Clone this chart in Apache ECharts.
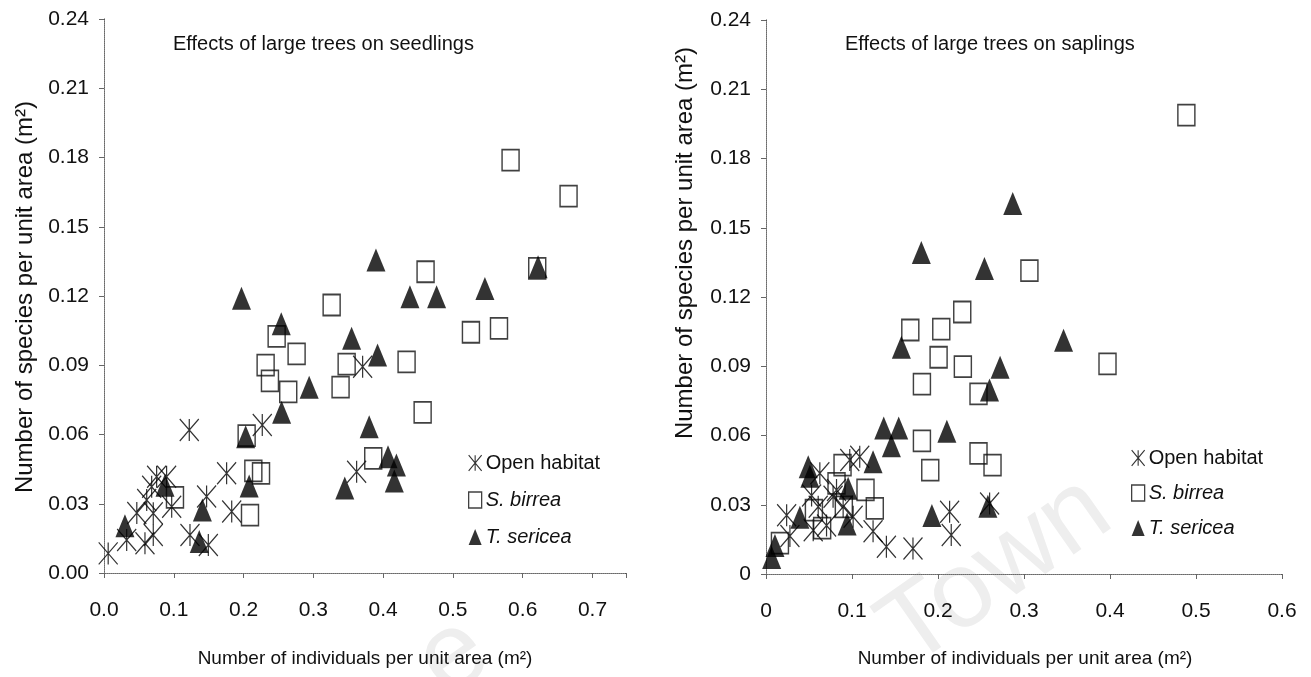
<!DOCTYPE html>
<html>
<head>
<meta charset="utf-8">
<script src="https://cdn.jsdelivr.net/npm/echarts@6/dist/echarts.min.js"></script>
<style>
  html, body { margin: 0; padding: 0; background: #fff; }
  #chart { width: 1311px; height: 677px; }
</style>
</head>
<body>
<div id="chart"></div>
<script>
// Tick labels
const seedlingXTicks = ['0.0', '0.1', '0.2', '0.3', '0.4', '0.5', '0.6', '0.7'];
const seedlingYTicks = ['0.00', '0.03', '0.06', '0.09', '0.12', '0.15', '0.18', '0.21', '0.24'];
const saplingXTicks = ['0', '0.1', '0.2', '0.3', '0.4', '0.5', '0.6'];
const saplingYTicks = ['0', '0.03', '0.06', '0.09', '0.12', '0.15', '0.18', '0.21', '0.24'];

const seriesNames = ['Open habitat', 'S. birrea', 'T. sericea'];

// Seedlings: [individuals per m2, species per m2]
const seedlingsOpen = [
  [0.006, 0.0085], [0.0325, 0.0143], [0.047, 0.026], [0.0587, 0.0129], [0.0612, 0.0316],
  [0.0683, 0.0374], [0.0706, 0.0259], [0.0706, 0.0165], [0.0754, 0.0417], [0.0897, 0.0417],
  [0.097, 0.0287], [0.1222, 0.0619], [0.1232, 0.0165], [0.147, 0.0331], [0.1495, 0.0121],
  [0.1757, 0.0432], [0.183, 0.0266], [0.2268, 0.0641], [0.362, 0.0439], [0.3706, 0.0894]
];
const seedlingsBirrea = [
  [0.1017, 0.0328], [0.2044, 0.0595], [0.2092, 0.0251], [0.214, 0.0442], [0.225, 0.0432],
  [0.2316, 0.0901], [0.2378, 0.0832], [0.2474, 0.1025], [0.264, 0.0785], [0.276, 0.0949],
  [0.3262, 0.1161], [0.339, 0.0805], [0.3477, 0.0905], [0.3858, 0.0497], [0.4336, 0.0915],
  [0.4566, 0.0696], [0.4608, 0.1305], [0.5258, 0.1043], [0.566, 0.106], [0.5826, 0.1789],
  [0.6208, 0.132], [0.6657, 0.1633]
];
const seedlingsSericea = [
  [0.030, 0.0205], [0.0874, 0.038], [0.1365, 0.0136], [0.141, 0.0273], [0.197, 0.119],
  [0.203, 0.059], [0.208, 0.0377], [0.254, 0.108], [0.2545, 0.0696], [0.294, 0.0805],
  [0.345, 0.0368], [0.3548, 0.1017], [0.380, 0.0634], [0.3897, 0.1356], [0.392, 0.0944],
  [0.407, 0.0504], [0.416, 0.0399], [0.419, 0.0468], [0.4384, 0.1197], [0.4766, 0.1197],
  [0.5458, 0.1233], [0.622, 0.1327]
];

// Saplings: [individuals per m2, species per m2]
const saplingsOpen = [
  [0.024, 0.0255], [0.0278, 0.0165], [0.053, 0.034], [0.0549, 0.019], [0.0626, 0.0436],
  [0.0607, 0.0291], [0.0704, 0.021], [0.078, 0.0335], [0.082, 0.0364], [0.0897, 0.0291],
  [0.0974, 0.0494], [0.1013, 0.0248], [0.109, 0.0508], [0.1245, 0.0185], [0.14, 0.0118],
  [0.1709, 0.011], [0.2135, 0.027], [0.2154, 0.0169], [0.26, 0.0305]
];
const saplingsBirrea = [
  [0.0162, 0.0134], [0.0557, 0.0277], [0.0653, 0.0199], [0.082, 0.0393], [0.089, 0.0472],
  [0.0905, 0.0291], [0.1157, 0.0364], [0.1265, 0.0284], [0.1678, 0.1057], [0.1813, 0.0823],
  [0.1813, 0.0577], [0.191, 0.045], [0.2007, 0.0939], [0.2038, 0.1061], [0.2282, 0.1135],
  [0.2289, 0.0898], [0.2471, 0.078], [0.2471, 0.0523], [0.2634, 0.0472], [0.3063, 0.1314],
  [0.3971, 0.091], [0.4888, 0.1988]
];
const saplingsSericea = [
  [0.0066, 0.0072], [0.0104, 0.0123], [0.0394, 0.0246], [0.0491, 0.0465], [0.051, 0.0424],
  [0.0943, 0.0217], [0.0955, 0.0371], [0.1245, 0.0486], [0.1369, 0.0632], [0.1458, 0.0556],
  [0.1543, 0.0632], [0.1574, 0.0982], [0.1806, 0.1393], [0.1929, 0.0253], [0.2103, 0.0618],
  [0.254, 0.1324], [0.258, 0.0293], [0.2599, 0.0797], [0.2722, 0.0896], [0.2869, 0.1605],
  [0.346, 0.1013]
];

const FONT = '"Liberation Sans", Arial, sans-serif';
const ASTERISK = 'path://M0,0L10,12M10,0L0,12M5,0L5,12';

function tickFormatter(labels, step) {
  return function (v) {
    const i = Math.round(v / step);
    return Math.abs(v / step - i) < 1e-6 ? (labels[i] || '') : '';
  };
}

function valueAxis(gridIndex, max, interval, labels, isX) {
  return {
    type: 'value', gridIndex: gridIndex, min: 0, max: max, interval: interval,
    position: isX ? 'bottom' : 'left',
    splitLine: { show: false },
    axisLine: { show: true, onZero: false, lineStyle: { color: '#333', width: 1 } },
    axisTick: { show: true, inside: false, length: 5, lineStyle: { color: '#666' } },
    axisLabel: {
      show: true, color: '#111', fontFamily: FONT, fontSize: 21,
      margin: isX ? 27 : 15,
      showMaxLabel: true,
      formatter: tickFormatter(labels, interval)
    }
  };
}

function frameAxis(gridIndex, max, isX) {
  return {
    type: 'value', gridIndex: gridIndex, min: 0, max: max,
    position: isX ? 'top' : 'right',
    splitLine: { show: false }, axisTick: { show: false }, axisLabel: { show: false },
    axisLine: { show: true, lineStyle: { color: '#888', width: 1, type: 'dotted' } }
  };
}

function scatterSeries(name, data, gi) {
  const base = { type: 'scatter', name: name, data: data, xAxisIndex: gi, yAxisIndex: gi };
  if (name === 'Open habitat') {
    return Object.assign(base, {
      symbol: ASTERISK, symbolSize: [19, 22], z: 2,
      itemStyle: { color: '#000', borderColor: '#000', borderWidth: 1.3 }
    });
  }
  if (name === 'S. birrea') {
    return Object.assign(base, {
      symbol: 'rect', symbolSize: [17, 21], z: 3,
      itemStyle: { color: 'rgba(255,255,255,0)', borderColor: '#111', borderWidth: 1.6 }
    });
  }
  return Object.assign(base, {
    symbol: 'triangle', symbolSize: [19, 23], z: 4,
    itemStyle: { color: '#000' }
  });
}

const legendItems = [
  { name: seriesNames[0], icon: ASTERISK, itemStyle: { color: '#000', borderColor: '#000', borderWidth: 1.1 } },
  { name: seriesNames[1], icon: 'rect', itemStyle: { color: 'rgba(255,255,255,0)', borderColor: '#111', borderWidth: 1.3 } },
  { name: seriesNames[2], icon: 'triangle', itemStyle: { color: '#000', borderWidth: 0 } }
];

function legendAt(left, top, gap) {
  return {
    orient: 'vertical', left: left, top: top, padding: 0, itemGap: gap,
    itemWidth: 13, itemHeight: 16, itemSymbolKeepAspect: false,
    selectedMode: false,
    data: legendItems,
    textStyle: {
      color: '#111', fontFamily: FONT, fontSize: 20, padding: [0, 0, 0, -1],
      rich: { it: { fontStyle: 'italic', fontFamily: FONT, fontSize: 20, color: '#111' } }
    },
    formatter: function (n) { return n === seriesNames[0] ? n : '{it|' + n + '}'; }
  };
}

function label(text, x, y, size, rotate, align) {
  return {
    type: 'text', x: x, y: y, rotation: rotate || 0, z: 10,
    style: { text: text, fontFamily: FONT, fontSize: size, fill: '#111', align: align || 'center', verticalAlign: 'middle' }
  };
}

function watermark(text, x, y) {
  return {
    type: 'text', x: x, y: y, rotation: 0.61, z: -10, silent: true,
    style: { text: text, fontFamily: FONT, fontSize: 108, fill: '#eeeeee', align: 'left', verticalAlign: 'alphabetic' }
  };
}

const chart = echarts.init(document.getElementById('chart'), null, { renderer: 'canvas' });

chart.setOption({
  animation: false,
  backgroundColor: '#fff',
  grid: [
    { left: 104, top: 19, width: 522, height: 554, containLabel: false },
    { left: 766, top: 20, width: 516, height: 554, containLabel: false }
  ],
  xAxis: [
    valueAxis(0, 0.748, 0.1, seedlingXTicks, true),
    valueAxis(1, 0.6, 0.1, saplingXTicks, true),
    frameAxis(0, 0.748, true),
    frameAxis(1, 0.6, true)
  ],
  yAxis: [
    valueAxis(0, 0.24, 0.03, seedlingYTicks, false),
    valueAxis(1, 0.24, 0.03, saplingYTicks, false),
    frameAxis(0, 0.24, false),
    frameAxis(1, 0.24, false)
  ],
  legend: [legendAt(468, 453, 17), legendAt(1131, 448, 15)],
  graphic: [
    // faint lettering behind the plots
    watermark('Town', 862, 600),
    watermark('e', 398, 630),
    label('Effects of large trees on seedlings', 173, 44, 20, 0, 'left'),
    label('Effects of large trees on saplings', 845, 44, 20, 0, 'left'),
    label('Number of individuals per unit area (m\u00B2)', 365, 659, 19),
    label('Number of individuals per unit area (m\u00B2)', 1025, 659, 19),
    label('Number of species per unit area (m\u00B2)', 25, 297, 24, Math.PI / 2),
    label('Number of species per unit area (m\u00B2)', 685, 243, 24, Math.PI / 2)
  ],
  series: [
    scatterSeries(seriesNames[0], seedlingsOpen, 0),
    scatterSeries(seriesNames[1], seedlingsBirrea, 0),
    scatterSeries(seriesNames[2], seedlingsSericea, 0),
    scatterSeries(seriesNames[0], saplingsOpen, 1),
    scatterSeries(seriesNames[1], saplingsBirrea, 1),
    scatterSeries(seriesNames[2], saplingsSericea, 1)
  ]
});
</script>
</body>
</html>
